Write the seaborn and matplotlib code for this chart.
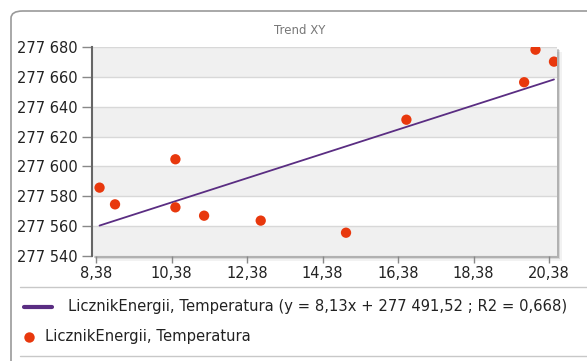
import matplotlib
matplotlib.use("Agg")
import matplotlib.pyplot as plt
import matplotlib.ticker as mticker
from matplotlib.patches import FancyBboxPatch, Rectangle
from matplotlib.lines import Line2D
import seaborn as sns
import pandas as pd

# data
temperatura = [8.47, 8.88, 10.48, 10.48, 11.24, 12.74, 15.00, 16.60, 19.72, 20.02, 20.51]
licznik = [277585.8, 277574.6, 277572.6, 277604.8, 277567.0, 277563.7,
           277555.6, 277631.3, 277656.4, 277678.2, 277670.2]
slope = 8.13
intercept = 277491.52
r2 = 0.668
x_ticks = [8.38, 10.38, 12.38, 14.38, 16.38, 18.38, 20.38]
y_ticks = [277540, 277560, 277580, 277600, 277620, 277640, 277660, 277680]
series_name = "LicznikEnergii, Temperatura"

df = pd.DataFrame({"x": temperatura, "y": licznik})
trend = pd.DataFrame({"x": [min(temperatura), max(temperatura)]})
trend["y"] = slope * trend["x"] + intercept

sns.set_style("white")
plt.rcParams["font.family"] = ["DejaVu Sans"]

W, H = 587, 361
fig = plt.figure(figsize=(W / 100, H / 100), dpi=100)

def px(x0, y0, x1, y1):
    return [x0 / W, 1 - y1 / H, (x1 - x0) / W, (y1 - y0) / H]

def pl(v):
    # polish number format: space thousands, comma decimals
    return v.replace(",", " ").replace(".", ",")

# outer frame
frame = FancyBboxPatch((11 / W, -0.1), 1.2, 1 - 11 / H + 0.1,
                       boxstyle="round,pad=0,rounding_size=0.02",
                       transform=fig.transFigure, fill=False,
                       edgecolor="#9a9a9a", linewidth=1.2)
fig.patches.append(frame)

ax = fig.add_axes(px(92, 47, 557, 256))

# shadow of the plot area
for i, a in enumerate([0.18, 0.10, 0.05]):
    off = (i + 1) * 1.6
    sh = Rectangle(((92 + off) / W, 1 - (256 + off) / H), 465 / W, 209 / H,
                   transform=fig.transFigure, facecolor="#000000", alpha=a,
                   edgecolor="none", zorder=-1)
    fig.patches.append(sh)

ax.set_facecolor("white")
ax.set_xlim(8.27, 20.59)
ax.set_ylim(277540, 277680)

# alternating bands
for i in range(len(y_ticks) - 1):
    if i % 2 == 0:
        ax.axhspan(y_ticks[i], y_ticks[i + 1], color="#f0f0f0", zorder=0, lw=0)
for yt in y_ticks:
    ax.axhline(yt, color="#d8d8d8", lw=1, zorder=1)

sns.lineplot(data=trend, x="x", y="y", ax=ax, color="#5a2d82", lw=1.3, zorder=3)
sns.scatterplot(data=df, x="x", y="y", ax=ax, color="#e8380d", s=55,
                edgecolor="none", zorder=4)

ax.set_xticks(x_ticks)
ax.set_yticks(y_ticks)
ax.xaxis.set_major_formatter(mticker.FuncFormatter(lambda v, p: f"{v:.2f}".replace(".", ",")))
ax.yaxis.set_major_formatter(mticker.FuncFormatter(lambda v, p: pl(f"{int(round(v)):,}")))
ax.tick_params(axis="y", length=7, width=1, color="#888888",
               labelsize=10.5, labelcolor="#222222", pad=3, left=True)
ax.tick_params(axis="x", length=5, width=1, color="#888888",
               labelsize=10.5, labelcolor="#222222", pad=2, bottom=True)
ax.set_xlabel("")
ax.set_ylabel("")
for s in ["top", "right", "bottom"]:
    ax.spines[s].set_visible(False)
ax.spines["left"].set_color("#666666")
ax.spines["left"].set_linewidth(1.5)

fig.text(300 / W, 1 - 31 / H, "Trend XY", ha="center", va="center",
         fontsize=8.5, color="#777777")

# separators
fig.add_artist(Line2D([20 / W, 1], [1 - 287 / H] * 2, color="#c8c8c8", lw=1))
fig.add_artist(Line2D([20 / W, 1], [1 - 356 / H] * 2, color="#c8c8c8", lw=1))

# legend
eq = f"(y = {pl(f'{slope:.2f}')}x + {pl(f'{intercept:,.2f}')} ; R2 = {pl(f'{r2:.3f}')})"
fig.add_artist(Line2D([24 / W, 52 / W], [1 - 307 / H] * 2, color="#5a2d82", lw=3))
fig.text(68 / W, 1 - 307 / H, f"{series_name} {eq}", ha="left", va="center",
         fontsize=10.6, color="#222222")
fig.add_artist(Line2D([29 / W], [1 - 337 / H], marker="o", color="#e8380d",
                      markersize=7.5, markeredgewidth=0, linestyle="none"))
fig.text(45 / W, 1 - 337 / H, series_name, ha="left", va="center",
         fontsize=10.6, color="#222222")

fig.savefig("out.png", dpi=100)
